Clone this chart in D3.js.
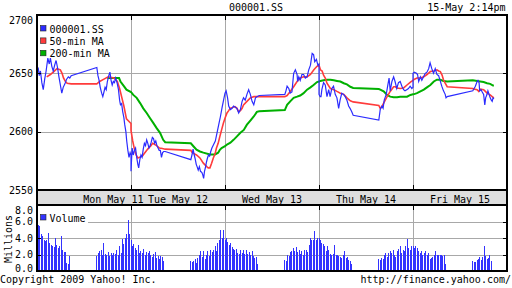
<!DOCTYPE html>
<html>
<head>
<meta charset="utf-8">
<script src="https://cdn.jsdelivr.net/npm/d3@7"></script>
<style>
  body { margin: 0; background: #fff; }
  svg text { font-family: "DejaVu Sans Mono", monospace; font-size: 10px; fill: #000; }
</style>
</head>
<body>
<div id="chart"></div>
<script>
// intraday series, "DD HH:MM" (May) -> index value
const priceData = [
  ["11 09:30",2651],["11 09:34",2655],["11 09:38",2648],["11 09:42",2652],["11 09:47",2642],["11 09:52",2636],["11 09:57",2645],
  ["11 10:02",2652],["11 10:08",2663],["11 10:13",2658],["11 10:17",2663],["11 10:22",2656],["11 10:27",2652],["11 10:32",2657],
  ["11 10:37",2661],["11 10:42",2655],["11 10:47",2647],["11 10:52",2640],["11 10:57",2633],["11 11:02",2638],["11 11:08",2641],
  ["11 11:14",2645],["11 11:20",2647],["11 11:25",2646],["11 11:30",2648],
  ["11 13:00",2655],["11 13:04",2648],["11 13:08",2644],["11 13:12",2638],["11 13:17",2633],["11 13:21",2630],["11 13:25",2634],
  ["11 13:29",2638],["11 13:33",2636],["11 13:37",2643],["11 13:42",2648],["11 13:46",2651],["11 13:50",2644],["11 13:54",2640],
  ["11 13:58",2643],["11 14:02",2642],["11 14:06",2646],["11 14:11",2642],["11 14:16",2636],["11 14:20",2627],["11 14:23",2623],
  ["11 14:27",2624],["11 14:31",2617],["11 14:35",2612],["11 14:38",2606],["11 14:42",2600],["11 14:45",2592],["11 14:49",2584],
  ["11 14:53",2578],["11 14:57",2582],["11 15:00",2580],
  ["12 09:30",2566],["12 09:34",2586],["12 09:38",2580],["12 09:42",2584],["12 09:46",2586],["12 09:50",2578],["12 09:54",2572],
  ["12 09:57",2569],["12 10:01",2576],["12 10:05",2580],["12 10:09",2578],["12 10:13",2585],["12 10:17",2590],["12 10:21",2588],
  ["12 10:25",2593],["12 10:29",2590],["12 10:33",2586],["12 10:37",2588],["12 10:41",2591],["12 10:45",2595],["12 10:49",2594],
  ["12 10:53",2590],["12 10:57",2592],["12 11:01",2588],["12 11:05",2586],["12 11:09",2584],["12 11:13",2584],["12 11:17",2578],
  ["12 11:21",2582],["12 11:25",2583],["12 11:30",2583],
  ["12 13:00",2576],["12 13:04",2580],["12 13:08",2585],["12 13:12",2580],["12 13:15",2577],["12 13:19",2572],["12 13:22",2570],
  ["12 13:26",2567],["12 13:30",2570],["12 13:34",2566],["12 13:39",2565],["12 13:42",2563],["12 13:45",2560],["12 13:48",2566],
  ["12 13:51",2569],["12 13:55",2574],["12 13:58",2577],["12 14:02",2580],["12 14:06",2579],["12 14:10",2583],["12 14:14",2586],
  ["12 14:20",2589],["12 14:26",2592],["12 14:32",2599],["12 14:38",2606],["12 14:44",2613],["12 14:50",2621],["12 14:55",2627],
  ["12 15:00",2633],
  ["13 09:30",2633],["13 09:34",2635],["13 09:39",2629],["13 09:43",2622],["13 09:49",2619],["13 09:55",2620],["13 10:00",2622],
  ["13 10:06",2621],["13 10:12",2620],["13 10:18",2616],["13 10:24",2619],["13 10:30",2626],["13 10:35",2629],["13 10:41",2627],
  ["13 10:47",2632],["13 10:53",2636],["13 10:59",2632],["13 11:05",2626],["13 11:11",2623],["13 11:17",2629],["13 11:22",2630],
  ["13 11:30",2631],
  ["13 13:00",2632],["13 13:04",2635],["13 13:08",2639],["13 13:14",2637],["13 13:19",2633],["13 13:25",2634],["13 13:31",2650],
  ["13 13:37",2653],["13 13:43",2649],["13 13:45",2643],["13 13:49",2647],["13 13:54",2644],["13 14:00",2649],["13 14:06",2649],
  ["13 14:12",2646],["13 14:18",2647],["13 14:24",2653],["13 14:30",2657],["13 14:36",2667],["13 14:41",2666],["13 14:45",2660],
  ["13 14:51",2662],["13 14:56",2657],["13 15:00",2658],
  ["14 09:30",2632],["14 09:34",2630],["14 09:37",2630],["14 09:40",2636],["14 09:46",2642],["14 09:52",2640],["14 09:58",2630],
  ["14 10:04",2636],["14 10:09",2630],["14 10:15",2637],["14 10:21",2639],["14 10:27",2632],["14 10:33",2629],["14 10:39",2620],
  ["14 10:44",2627],["14 10:50",2633],["14 10:56",2632],["14 11:02",2630],["14 11:08",2627],["14 11:14",2622],["14 11:19",2620],
  ["14 11:25",2617],["14 11:30",2614],
  ["14 13:00",2610],["14 13:05",2619],["14 13:11",2622],["14 13:15",2620],["14 13:19",2627],["14 13:26",2632],["14 13:31",2639],
  ["14 13:36",2646],["14 13:40",2635],["14 13:46",2643],["14 13:52",2647],["14 13:57",2643],["14 14:03",2637],["14 14:09",2642],
  ["14 14:15",2643],["14 14:21",2639],["14 14:27",2636],["14 14:32",2635],["14 14:38",2636],["14 14:44",2637],["14 14:50",2639],
  ["14 14:56",2637],["14 15:00",2638],
  ["15 09:30",2650],["15 09:35",2651],["15 09:42",2650],["15 09:46",2649],["15 09:50",2643],["15 09:56",2647],["15 10:01",2644],
  ["15 10:07",2647],["15 10:13",2650],["15 10:19",2651],["15 10:25",2654],["15 10:30",2659],["15 10:36",2654],["15 10:42",2650],
  ["15 10:48",2654],["15 10:54",2649],["15 11:00",2648],["15 11:05",2644],["15 11:11",2639],["15 11:17",2635],["15 11:23",2632],
  ["15 11:26",2629],["15 11:30",2630],
  ["15 13:00",2635],["15 13:09",2639],["15 13:15",2643],["15 13:18",2644],["15 13:22",2642],["15 13:24",2635],["15 13:29",2636],
  ["15 13:33",2634],["15 13:38",2632],["15 13:42",2623],["15 13:45",2629],["15 13:50",2632],["15 13:53",2635],["15 13:57",2632],
  ["15 14:01",2629],["15 14:05",2627],["15 14:08",2626],["15 14:11",2629],["15 14:14",2628]
];

const ma50Data = [
  ["11 10:04",2647],["11 10:17",2649],["11 10:29",2651.5],["11 10:40",2654],["11 10:52",2653],["11 10:58",2650],["11 11:03",2646],
  ["11 11:10",2643],["11 11:16",2641.5],["11 11:30",2641],
  ["11 13:00",2641],["11 13:10",2643],["11 13:25",2645],["11 13:40",2647],["11 14:00",2646],["11 14:12",2643],["11 14:20",2637],
  ["11 14:27",2630],["11 14:35",2622],["11 14:44",2611],["11 15:00",2607],
  ["12 09:30",2601],["12 09:36",2592],["12 09:42",2585],["12 09:48",2580],["12 09:54",2577.5],["12 10:00",2578],["12 10:10",2579],
  ["12 10:16",2581],["12 10:28",2585],["12 10:40",2588],["12 10:46",2590],["12 11:00",2588],["12 11:10",2586],["12 11:20",2585.5],
  ["12 11:30",2585],
  ["12 13:00",2584],["12 13:05",2582],["12 13:20",2580],["12 13:32",2577.5],["12 13:44",2573],["12 13:56",2570],["12 14:01",2569],
  ["12 14:07",2569],["12 14:13",2573],["12 14:19",2577.5],["12 14:25",2581],["12 14:30",2586],["12 14:36",2590],["12 14:42",2596],
  ["12 14:48",2601.5],["12 14:54",2607],["12 15:00",2611.5],
  ["13 09:37",2616],["13 09:43",2618],["13 09:48",2620],["13 10:05",2621.5],["13 10:12",2620],["13 10:18",2617],["13 10:24",2618],
  ["13 10:30",2620],["13 10:35",2623],["13 10:47",2626],["13 10:59",2629],["13 11:11",2630],["13 11:30",2630],
  ["13 13:00",2630],["13 13:08",2631],["13 13:19",2634.5],["13 13:31",2638.5],["13 13:43",2643],["13 13:54",2646],["13 14:06",2647],
  ["13 14:18",2647],["13 14:30",2649],["13 14:42",2653],["13 14:53",2656],["13 15:00",2657],
  ["14 09:35",2653],["14 09:41",2652],["14 09:46",2648.5],["14 09:52",2646],["14 09:58",2641.5],["14 10:10",2637],["14 10:22",2636],
  ["14 10:33",2634.5],["14 10:45",2633],["14 10:57",2632],["14 11:08",2629],["14 11:20",2626.5],["14 11:30",2625.5],
  ["14 13:00",2622.5],["14 13:05",2620],["14 13:11",2621.5],["14 13:17",2624.5],["14 13:29",2630],["14 13:40",2634.5],
  ["14 13:52",2638.5],["14 13:58",2638.5],["14 14:04",2637.5],["14 14:15",2637],["14 14:27",2637.5],["14 14:39",2640],
  ["14 14:51",2642.5],["14 15:00",2644],
  ["15 09:32",2644.5],["15 09:44",2646],["15 09:56",2646],["15 10:08",2647],["15 10:19",2649],["15 10:31",2651.5],["15 10:43",2652],
  ["15 10:54",2653],["15 11:00",2652],["15 11:06",2651.5],["15 11:12",2648.5],["15 11:17",2644.5],["15 11:23",2641.5],
  ["15 11:30",2638.5],
  ["15 13:00",2637],["15 13:03",2636.5],["15 13:15",2636],["15 13:21",2634.5],["15 13:26",2636.5],["15 13:38",2636],
  ["15 13:44",2634.5],["15 13:50",2633],["15 14:01",2631.5],["15 14:11",2629.5],["15 14:14",2629]
];

const ma200Data = [
  ["11 13:37",2646],["11 14:18",2646],["11 14:23",2643],["11 14:35",2639],["11 14:44",2636],["11 15:00",2634],
  ["12 09:38",2631.5],["12 09:50",2629],["12 10:02",2624.5],["12 10:13",2620],["12 10:25",2616],["12 10:37",2611.5],
  ["12 10:48",2607.5],["12 11:00",2603],["12 11:12",2599],["12 11:23",2593],["12 11:30",2591],
  ["12 13:00",2590],["12 13:09",2587.5],["12 13:20",2584.5],["12 13:32",2583],["12 13:44",2582],["12 14:07",2580.5],
  ["12 14:25",2580.5],["12 14:36",2582],["12 14:42",2584.5],["12 14:48",2586],["12 15:00",2587.5],
  ["13 09:37",2589],["13 09:49",2590.5],["13 10:00",2593],["13 10:12",2596],["13 10:24",2599],["13 10:36",2601.5],
  ["13 10:47",2606],["13 10:59",2609.5],["13 11:11",2613],["13 11:22",2617],["13 11:30",2617.5],
  ["13 13:00",2618.5],["13 13:08",2623],["13 13:19",2626],["13 13:31",2629],["13 13:43",2630],["13 13:54",2631],
  ["13 14:06",2633],["13 14:18",2636],["13 14:30",2638],["13 14:41",2640],["13 14:53",2642.5],["13 15:00",2643],
  ["14 09:35",2643.5],["14 09:46",2644],["14 09:58",2644.5],["14 10:10",2644.5],["14 10:22",2644],["14 10:33",2643.5],
  ["14 10:45",2643],["14 10:57",2641.5],["14 11:08",2640.5],["14 11:20",2638.5],["14 11:30",2637.5],
  ["14 13:00",2636.5],["14 13:05",2636],["14 13:17",2634.5],["14 13:29",2631.5],["14 13:40",2630],["14 13:52",2629.5],
  ["14 14:04",2629.5],["14 14:15",2630],["14 14:39",2630],["14 14:51",2631.5],["14 15:00",2632],
  ["15 09:32",2632],["15 09:44",2633],["15 09:56",2634.5],["15 10:08",2636],["15 10:19",2638],["15 10:31",2640],
  ["15 10:43",2643],["15 10:54",2644.5],["15 11:06",2644.5],["15 11:17",2643.5],["15 11:30",2643],
  ["15 13:00",2644],["15 13:15",2643.5],["15 13:26",2643],["15 13:38",2642.5],["15 13:50",2641.5],["15 14:01",2641],
  ["15 14:11",2639.5],["15 14:14",2639.5]
];

// 5-min volume in millions: 24 morning bars (09:30-11:30) then afternoon bars (13:00-15:00)
const volMon = [5.2,5.6,5.5,4.5,4.2,3.7,3.6,3.7,4.6,3.4,3.2,3.0,2.9,4.0,3.2,2.8,3.0,4.3,2.6,2.3,2.3,1.0,0.9,1.8,
                1.8,2.2,2.4,2.6,2.0,3.4,2.1,2.0,2.3,1.8,2.2,1.9,2.2,2.1,2.6,2.0,3.0,2.2,3.9,3.3,4.0,4.5,6.2,4.5];
const volTue = [3.8,3.0,3.3,2.8,2.5,3.2,2.2,2.4,2.2,2.7,2.0,2.3,2.2,2.4,1.9,1.7,2.1,2.3,1.6,1.8,1.4,1.8,1.7,1.2,
                1.2,1.1,1.2,1.4,1.0,1.6,2.0,2.4,1.7,2.4,1.5,2.0,2.4,1.8,2.6,2.3,2.6,3.0,2.4,3.4,3.8,5.0,4.0,5.0];
const volWed = [3.8,4.0,3.5,3.2,3.4,2.9,2.7,2.5,2.7,2.2,2.1,2.5,2.2,2.6,2.1,2.5,2.1,2.3,1.9,2.4,1.8,1.6,1.7,0.8,
                1.3,1.2,1.9,1.8,2.3,2.4,2.8,2.4,2.9,2.3,2.5,2.1,2.4,1.9,2.5,2.6,2.3,3.2,4.0,3.8,3.8,4.9,3.8,4.0];
const volThu = [4.0,3.8,3.4,3.3,3.0,2.4,3.0,2.6,2.1,2.0,2.1,3.1,2.0,1.9,1.8,1.7,1.6,1.9,2.4,1.6,1.7,1.3,1.2,0.8,
                1.5,1.3,1.6,1.4,1.9,2.2,1.7,2.2,2.4,2.2,2.6,1.9,1.7,2.4,2.7,3.0,2.2,2.6,2.4,3.0,3.9,2.8,2.6,3.0];
const volFri = [3.0,2.8,3.0,2.8,2.4,2.2,2.4,2.0,2.2,2.4,1.9,2.2,1.5,1.6,1.7,1.9,2.4,1.9,2.0,1.9,2.0,1.8,1.9,0.8,
                1.2,1.1,1.1,1.3,1.4,1.7,1.3,1.7,3.0,1.8,1.4,1.6,2.0,1.2];

const dayLabels = ['Mon May 11', 'Tue May 12', 'Wed May 13', 'Thu May 14', 'Fri May 15'];
const dayLabelTimes = ['11 13:58', '12 12:15', '13 12:15', '14 12:15', '15 12:15'];
const dayStarts = ['12 09:30', '13 09:30', '14 09:30', '15 09:30'];
const priceTicks = [2550, 2600, 2650, 2700];
const volumeTicks = [0, 2, 4, 6, 8];
const volumeTickLabels = ['0.0', '2.0', '4.0', '6.0', '8.0'];
const legendItems = ['000001.SS', '50-min MA', '200-min MA'];

const colors = { price: '#2b2bff', ma50: '#ff3b3b', ma200: '#00b000', volume: '#3333ff' };

let width = 512;
let height = 288;
let plot = { left: 37, right: 507, top: 15, bottom: 190 };
let band = { top: 190, bottom: 205 };
let volPanel = { top: 205, bottom: 271 };

// trading-session hours since Mon 09:30, each day is 09:30-15:00 (5.5h)
function sessionHours(str) {
    const day = +str.slice(0, 2) - 11;
    const [h, m] = str.slice(3).split(':').map(Number);
    return day * 5.5 + (h + m / 60 - 9.5);
}

const svg = d3.select('#chart')
    .append('svg')
    .attr('width', width)
    .attr('height', height);

const xScale = d3.scaleLinear().domain([0, 27.5]).range([plot.left, plot.right]);
const yScale = d3.scaleLinear().domain([2550, 2700]).range([plot.bottom, plot.top]);
const vScale = d3.scaleLinear().domain([0, 8]).range([volPanel.bottom, volPanel.top]);

// grid lines
const grid = svg.append('g').attr('shape-rendering', 'crispEdges').attr('stroke', '#a8a8a8');
grid.selectAll('.hgrid')
    .data(priceTicks)
    .enter().append('line')
    .attr('x1', plot.left).attr('x2', plot.right)
    .attr('y1', d => Math.round(yScale(d)) + 0.5).attr('y2', d => Math.round(yScale(d)) + 0.5);
grid.selectAll('.vgrid')
    .data(volumeTicks)
    .enter().append('line')
    .attr('x1', plot.left).attr('x2', plot.right)
    .attr('y1', d => Math.round(vScale(d)) + 0.5).attr('y2', d => Math.round(vScale(d)) + 0.5);
dayStarts.forEach(t => {
    const x = Math.round(xScale(sessionHours(t))) + 0.5;
    grid.append('line').attr('x1', x).attr('x2', x).attr('y1', plot.top).attr('y2', plot.bottom);
    grid.append('line').attr('x1', x).attr('x2', x).attr('y1', volPanel.top).attr('y2', volPanel.bottom);
});

// volume bars
const volDays = [volMon, volTue, volWed, volThu, volFri];
const bars = [];
volDays.forEach((arr, d) => {
    arr.forEach((v, i) => {
        const t = i < 24 ? 9.5 + i * 5 / 60 : 13 + (i - 24) * 5 / 60;
        bars.push({ s: d * 5.5 + t - 9.5, v: v });
    });
});
svg.append('g')
    .attr('shape-rendering', 'crispEdges')
    .selectAll('rect')
    .data(bars)
    .enter().append('rect')
    .attr('x', d => Math.floor(xScale(d.s)))
    .attr('y', d => vScale(d.v))
    .attr('width', 1)
    .attr('height', d => vScale(0) - vScale(d.v))
    .attr('fill', colors.volume);

// lines
const line = d3.line()
    .x(d => xScale(sessionHours(d[0])))
    .y(d => yScale(d[1]));

svg.append('path').datum(ma200Data)
    .attr('d', line).attr('fill', 'none')
    .attr('stroke', colors.ma200).attr('stroke-width', 2);
svg.append('path').datum(ma50Data)
    .attr('d', line).attr('fill', 'none')
    .attr('stroke', colors.ma50).attr('stroke-width', 1.6);
svg.append('path').datum(priceData)
    .attr('d', line).attr('fill', 'none')
    .attr('stroke', colors.price).attr('stroke-width', 1.2);

// frames
const frame = svg.append('g').attr('shape-rendering', 'crispEdges');
frame.append('rect')
    .attr('x', plot.left).attr('y', band.top)
    .attr('width', plot.right - plot.left).attr('height', band.bottom - band.top)
    .attr('fill', '#dedede').attr('stroke', '#000').attr('stroke-width', 1.5);
frame.append('rect')
    .attr('x', plot.left).attr('y', plot.top)
    .attr('width', plot.right - plot.left).attr('height', plot.bottom - plot.top)
    .attr('fill', 'none').attr('stroke', '#000').attr('stroke-width', 1.5);
frame.append('rect')
    .attr('x', plot.left).attr('y', volPanel.top)
    .attr('width', plot.right - plot.left).attr('height', volPanel.bottom - volPanel.top)
    .attr('fill', 'none').attr('stroke', '#000').attr('stroke-width', 1.5);

// small black ticks at day boundaries and grid ends
dayStarts.forEach(t => {
    const x = Math.round(xScale(sessionHours(t))) + 0.5;
    frame.append('line').attr('x1', x).attr('x2', x).attr('y1', plot.top).attr('y2', plot.top + 5).attr('stroke', '#000');
    frame.append('line').attr('x1', x).attr('x2', x).attr('y1', plot.bottom - 5).attr('y2', plot.bottom).attr('stroke', '#000');
    frame.append('line').attr('x1', x).attr('x2', x).attr('y1', volPanel.top).attr('y2', volPanel.top + 5).attr('stroke', '#000');
});
[2600, 2650].forEach(v => {
    const y = Math.round(yScale(v)) + 0.5;
    frame.append('line').attr('x1', plot.left).attr('x2', plot.left + 4).attr('y1', y).attr('y2', y).attr('stroke', '#000');
    frame.append('line').attr('x1', plot.right - 4).attr('x2', plot.right).attr('y1', y).attr('y2', y).attr('stroke', '#000');
});
[2, 4, 6].forEach(v => {
    const y = Math.round(vScale(v)) + 0.5;
    frame.append('line').attr('x1', plot.left).attr('x2', plot.left + 4).attr('y1', y).attr('y2', y).attr('stroke', '#000');
    frame.append('line').attr('x1', plot.right - 4).attr('x2', plot.right).attr('y1', y).attr('y2', y).attr('stroke', '#000');
});

// y axis labels, clamped inside each panel
svg.selectAll('.plabel')
    .data(priceTicks)
    .enter().append('text')
    .attr('x', 33)
    .attr('y', d => Math.max(yScale(d), plot.top + 5))
    .attr('dy', '0.35em')
    .attr('text-anchor', 'end')
    .text(d => d);
svg.selectAll('.vlabel')
    .data(volumeTicks)
    .enter().append('text')
    .attr('x', 33)
    .attr('y', d => Math.min(Math.max(vScale(d), volPanel.top + 5), volPanel.bottom - 3))
    .attr('dy', '0.35em')
    .attr('text-anchor', 'end')
    .text((d, i) => volumeTickLabels[i]);

svg.append('text')
    .attr('transform', `translate(12, 239) rotate(-90)`)
    .attr('text-anchor', 'middle')
    .text('Millions');

// day labels in the band
svg.selectAll('.daylabel')
    .data(dayLabels)
    .enter().append('text')
    .attr('x', (d, i) => xScale(sessionHours(dayLabelTimes[i])))
    .attr('y', 202.5)
    .attr('text-anchor', 'middle')
    .text(d => d);

// legends
const legendColors = [colors.price, colors.ma50, colors.ma200];
legendItems.forEach((name, i) => {
    const base = 32.5 + i * 12.4;
    svg.append('rect')
        .attr('x', 40.5).attr('y', base - 7).attr('width', 5.5).attr('height', 5.5)
        .attr('fill', legendColors[i]).attr('stroke', '#222').attr('stroke-width', 0.6);
    svg.append('text').attr('x', 49.5).attr('y', base).text(name);
});

svg.append('rect')
    .attr('x', plot.left + 1).attr('y', volPanel.top + 1).attr('width', 50).attr('height', 18)
    .attr('fill', '#fff');
svg.append('rect')
    .attr('x', 40.5).attr('y', 214.5).attr('width', 5.5).attr('height', 5.5)
    .attr('fill', colors.volume).attr('stroke', '#222').attr('stroke-width', 0.6);
svg.append('text').attr('x', 49.5).attr('y', 222.3).text('Volume');

// title and footer
svg.append('text').attr('x', 256).attr('y', 10.5).attr('text-anchor', 'middle').text('000001.SS');
svg.append('text').attr('x', 505.5).attr('y', 10.5).attr('text-anchor', 'end').text('15-May 2:14pm');
svg.append('text').attr('x', 0).attr('y', 283).text('Copyright 2009 Yahoo! Inc.');
svg.append('text').attr('x', 511).attr('y', 283).attr('text-anchor', 'end').text('http://finance.yahoo.com/');
</script>
</body>
</html>
